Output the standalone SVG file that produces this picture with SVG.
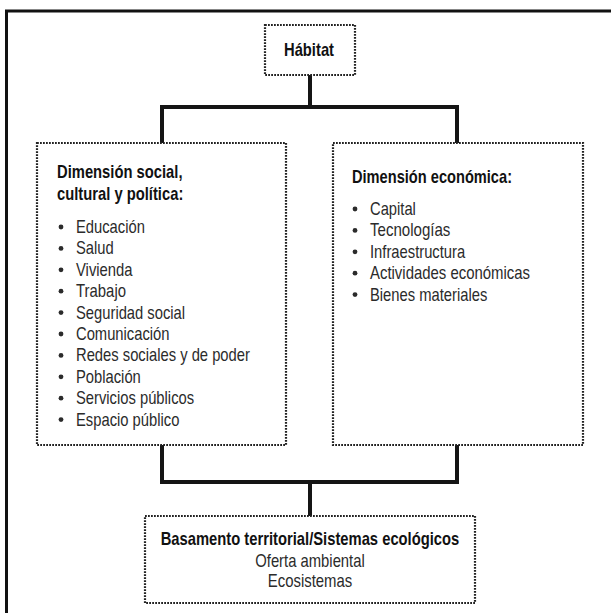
<svg xmlns="http://www.w3.org/2000/svg" width="611" height="613" viewBox="0 0 611 613">
  <style>
    .frame { stroke: #111; stroke-width: 3; fill: none; }
    .box { fill: #fff; stroke: #222; stroke-width: 2.2; stroke-dasharray: 1.8 1.2; }
    .conn { stroke: #151515; stroke-width: 4; fill: none; stroke-linecap: square; }
    text { font-family: "Liberation Sans", Arial, sans-serif; font-size: 18.5px; }
    .title { font-weight: bold; fill: #111; }
    .item { fill: #2b2b2b; }
    .bullet { fill: #2b2b2b; }
  </style>
  <rect width="611" height="613" fill="#fff"/>
  <g id="frame">
    <line class="frame" x1="5" y1="11" x2="611" y2="11"/>
    <line class="frame" x1="6.5" y1="10" x2="6.5" y2="613"/>
  </g>
  <g id="connectors">
    <polyline class="conn" points="310,75 310,107"/>
    <polyline class="conn" points="162,143 162,107 457,107 457,143"/>
    <polyline class="conn" points="162,445 162,482 457,482 457,445"/>
    <polyline class="conn" points="310,482 310,516"/>
  </g>
  <g id="habitat">
    <rect class="box" x="265" y="25" width="90" height="50"/>
    <text class="title" x="309" y="56" text-anchor="middle" textLength="50" lengthAdjust="spacingAndGlyphs">Hábitat</text>
  </g>
  <g id="social">
    <rect class="box" x="37" y="143" width="249" height="302"/>
    <text class="title" x="57" y="178" textLength="125.5" lengthAdjust="spacingAndGlyphs">Dimensión social,</text>
    <text class="title" x="57" y="200" textLength="126.3" lengthAdjust="spacingAndGlyphs">cultural y política:</text>
    <g class="bullet">
      <circle cx="61" cy="227" r="2.4"/>
      <circle cx="61" cy="248.4" r="2.4"/>
      <circle cx="61" cy="269.8" r="2.4"/>
      <circle cx="61" cy="291.2" r="2.4"/>
      <circle cx="61" cy="312.6" r="2.4"/>
      <circle cx="61" cy="334" r="2.4"/>
      <circle cx="61" cy="355.4" r="2.4"/>
      <circle cx="61" cy="376.8" r="2.4"/>
      <circle cx="61" cy="398.2" r="2.4"/>
      <circle cx="61" cy="419.6" r="2.4"/>
    </g>
    <text class="item" x="76" y="233" textLength="68.9" lengthAdjust="spacingAndGlyphs">Educación</text>
    <text class="item" x="76" y="254.4" textLength="37.7" lengthAdjust="spacingAndGlyphs">Salud</text>
    <text class="item" x="76" y="275.8" textLength="56.6" lengthAdjust="spacingAndGlyphs">Vivienda</text>
    <text class="item" x="76" y="297.2" textLength="50" lengthAdjust="spacingAndGlyphs">Trabajo</text>
    <text class="item" x="76" y="318.6" textLength="109.1" lengthAdjust="spacingAndGlyphs">Seguridad social</text>
    <text class="item" x="76" y="340" textLength="93.5" lengthAdjust="spacingAndGlyphs">Comunicación</text>
    <text class="item" x="76" y="361.4" textLength="173.9" lengthAdjust="spacingAndGlyphs">Redes sociales y de poder</text>
    <text class="item" x="76" y="382.8" textLength="64.8" lengthAdjust="spacingAndGlyphs">Población</text>
    <text class="item" x="76" y="404.2" textLength="118.1" lengthAdjust="spacingAndGlyphs">Servicios públicos</text>
    <text class="item" x="76" y="425.6" textLength="103.4" lengthAdjust="spacingAndGlyphs">Espacio público</text>
  </g>
  <g id="economica">
    <rect class="box" x="333" y="143" width="250" height="302"/>
    <text class="title" x="352" y="183" textLength="160" lengthAdjust="spacingAndGlyphs">Dimensión económica:</text>
    <g class="bullet">
      <circle cx="355" cy="209" r="2.4"/>
      <circle cx="355" cy="230.4" r="2.4"/>
      <circle cx="355" cy="251.8" r="2.4"/>
      <circle cx="355" cy="273.2" r="2.4"/>
      <circle cx="355" cy="294.6" r="2.4"/>
    </g>
    <text class="item" x="370" y="215" textLength="45.9" lengthAdjust="spacingAndGlyphs">Capital</text>
    <text class="item" x="370" y="236.4" textLength="80.4" lengthAdjust="spacingAndGlyphs">Tecnologías</text>
    <text class="item" x="370" y="257.8" textLength="95.2" lengthAdjust="spacingAndGlyphs">Infraestructura</text>
    <text class="item" x="370" y="279.2" textLength="160" lengthAdjust="spacingAndGlyphs">Actividades económicas</text>
    <text class="item" x="370" y="300.6" textLength="117.3" lengthAdjust="spacingAndGlyphs">Bienes materiales</text>
  </g>
  <g id="basamento">
    <rect class="box" x="145" y="516" width="330" height="87"/>
    <text class="title" x="310" y="545" text-anchor="middle" textLength="298.6" lengthAdjust="spacingAndGlyphs">Basamento territorial/Sistemas ecológicos</text>
    <text class="item" x="310" y="567" text-anchor="middle" textLength="109.5" lengthAdjust="spacingAndGlyphs">Oferta ambiental</text>
    <text class="item" x="310" y="587" text-anchor="middle" textLength="84.5" lengthAdjust="spacingAndGlyphs">Ecosistemas</text>
  </g>
</svg>
